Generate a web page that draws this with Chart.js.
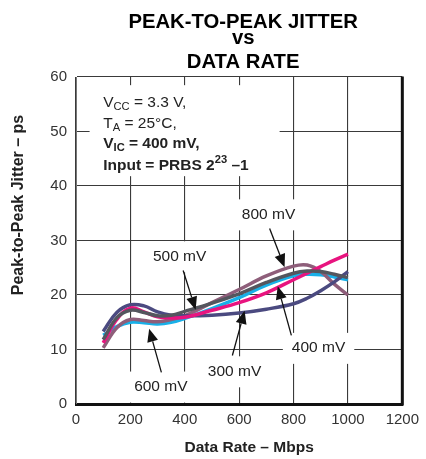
<!DOCTYPE html>
<html><head><meta charset="utf-8">
<script src="https://cdn.jsdelivr.net/npm/chart.js@4"></script>
<style>html,body{margin:0;padding:0;background:#fff}#wrap{width:426px;height:459px;position:relative}</style>
</head><body><div id="wrap"><canvas id="c"></canvas></div>
<script>
// ---- data ----
const rates   = [100,150,200,250,300,350,400,500,600,700,800,850,900,950,1000];
const vid300  = [13.3,16.8,18.2,18.0,16.9,16.3,16.2,16.3,16.7,17.4,18.4,19.4,20.8,22.4,24.3];
const vid400  = [11.2,15.5,17.6,16.9,16.0,15.8,15.9,17.2,18.6,20.4,22.8,24.0,25.2,26.4,27.5];
const vid500  = [11.8,15.8,17.2,16.8,16.2,16.3,17.0,18.5,20.2,22.3,24.0,24.4,24.3,23.8,23.2];
const vid600  = [12.6,14.2,15.0,14.9,14.7,15.0,15.7,17.5,19.5,21.8,23.5,23.8,23.7,23.3,22.8];
const vid800  = [10.3,14.0,15.5,15.3,15.1,15.5,16.2,18.6,21.0,23.5,25.3,25.5,24.3,22.0,20.0];
const seriesNames = ['500 mV','400 mV','300 mV','800 mV','600 mV'];
const xTicks = [0,200,400,600,800,1000,1200];
const yTicks = [0,10,20,30,40,50,60];
const titleLines = ['PEAK-TO-PEAK JITTER','vs','DATA RATE'];
const xTitle = 'Data Rate \u2013 Mbps';
const yTitle = 'Peak-to-Peak Jitter \u2013 ps';

// annotation callouts: label position, arrow tail, arrow tip (data units)
const callouts = [
  {text:'800 mV', lx:708, ly:34.8, tx:712, ty:32.2, hx:767, hy:25.1},
  {text:'500 mV', lx:381, ly:27.1, tx:394, ty:24.5, hx:440, hy:17.3},
  {text:'600 mV', lx:312, ly:3.2,  tx:314, ty:5.8,  hx:269, hy:13.8},
  {text:'300 mV', lx:583, ly:6.0,  tx:575, ty:8.9,  hx:620, hy:17.1},
  {text:'400 mV', lx:892, ly:10.3, tx:792, ty:12.6, hx:742, hy:21.6}
];

const FONT = '"Liberation Sans", Arial, Helvetica, sans-serif';
const colors = {'300 mV':'#4b4a80','400 mV':'#e8147f','500 mV':'#54565e','600 mV':'#18b0e8','800 mV':'#8e5e7a'};
const seriesData = {'300 mV':vid300,'400 mV':vid400,'500 mV':vid500,'600 mV':vid600,'800 mV':vid800};

function drawRich(ctx, parts, x, y, size, bold){
  let cx = x;
  parts.forEach(p=>{
    const s = p.sub||p.sup ? size*0.72 : size;
    ctx.font = (bold?'bold ':'') + s + 'px ' + FONT;
    const dy = p.sub ? size*0.22 : (p.sup ? -size*0.4 : 0);
    ctx.fillText(p.t, cx, y+dy);
    cx += ctx.measureText(p.t).width;
  });
}

const annotPlugin = {
  id:'annot',
  beforeDatasetsDraw(chart){
    const {ctx, scales:{x,y}} = chart;
    ctx.save();
    ctx.fillStyle = '#fff';
    ctx.fillRect(x.getPixelForValue(50), y.getPixelForValue(58.5), 190, 91);
    ctx.font = '15.5px ' + FONT;
    callouts.forEach(c=>{
      const w = ctx.measureText(c.text).width;
      const px = x.getPixelForValue(c.lx), py = y.getPixelForValue(c.ly);
      ctx.fillRect(px - w/2 - 9, py - 15, w + 18, 31);
    });
    ctx.restore();
  },
  afterDatasetsDraw(chart){
    const {ctx, scales:{x,y}, chartArea} = chart;
    ctx.save();
    ctx.strokeStyle = '#111'; ctx.lineWidth = 3;
    ctx.beginPath(); ctx.moveTo(chartArea.right, chartArea.top-0.5); ctx.lineTo(chartArea.right, chartArea.bottom+1.5); ctx.stroke();
    ctx.strokeStyle = '#111'; ctx.lineWidth = 1.3;
    callouts.forEach(c=>{
      const px = x.getPixelForValue(c.lx), py = y.getPixelForValue(c.ly);
      ctx.font = '15.5px ' + FONT; ctx.textAlign='center'; ctx.textBaseline='middle';
      ctx.fillStyle = '#222';
      ctx.fillText(c.text, px, py);
      const tx = x.getPixelForValue(c.tx), ty = y.getPixelForValue(c.ty);
      const hx = x.getPixelForValue(c.hx), hy = y.getPixelForValue(c.hy);
      const ang = Math.atan2(hy-ty, hx-tx);
      const L = 13, W = 5.5;
      const bx = hx - L*Math.cos(ang), by = hy - L*Math.sin(ang);
      ctx.beginPath(); ctx.moveTo(tx,ty); ctx.lineTo(bx,by); ctx.stroke();
      ctx.fillStyle = '#111';
      ctx.beginPath();
      ctx.moveTo(hx,hy);
      ctx.lineTo(bx + W*Math.sin(ang), by - W*Math.cos(ang));
      ctx.lineTo(bx - W*Math.sin(ang), by + W*Math.cos(ang));
      ctx.closePath(); ctx.fill();
    });
    ctx.fillStyle = '#222'; ctx.textAlign='left'; ctx.textBaseline='alphabetic';
    const ix = x.getPixelForValue(100);
    const b0 = y.top + 29.5;
    drawRich(ctx,[{t:'V'},{t:'CC',sub:true},{t:' = 3.3 V,'}], ix, b0, 15.5, false);
    drawRich(ctx,[{t:'T'},{t:'A',sub:true},{t:' = 25\u00b0C,'}], ix, b0+21.5, 15.5, false);
    drawRich(ctx,[{t:'V'},{t:'IC',sub:true},{t:' = 400 mV,'}], ix, b0+41, 15.5, true);
    drawRich(ctx,[{t:'Input = PRBS 2'},{t:'23',sup:true},{t:' \u20131'}], ix, b0+63, 15.5, true);
    ctx.restore();
  },
  afterDraw(chart){
    const {ctx, chartArea} = chart;
    ctx.save();
    ctx.fillStyle = '#000'; ctx.textAlign = 'center'; ctx.textBaseline = 'alphabetic';
    const cx = (chartArea.left + chartArea.right)/2 + 4;
    ctx.font = 'bold 20.3px ' + FONT;
    ctx.fillText(titleLines[0], cx, 28.3);
    ctx.fillText(titleLines[1], cx, 43.5);
    ctx.fillText(titleLines[2], cx, 68.2);
    ctx.fillStyle = '#222';
    ctx.font = 'bold 15.5px ' + FONT;
    ctx.fillText(xTitle, cx + 6, 451.5);
    ctx.font = 'bold 16px ' + FONT;
    ctx.translate(23, 205); ctx.rotate(-Math.PI/2);
    ctx.fillText(yTitle, 0, 0);
    ctx.restore();
  }
};

const datasets = seriesNames.map(n=>({
  label:n,
  data: rates.map((r,i)=>({x:r, y:seriesData[n][i]})),
  borderColor: colors[n],
  borderWidth: 3.5,
  pointRadius: 0,
  tension: 0.4,
  fill:false
}));

new Chart(document.getElementById('c'), {
  type:'line',
  data:{datasets},
  options:{
    responsive:true, maintainAspectRatio:false, animation:false,
    layout:{padding:{top:77,right:23,left:0,bottom:0}},
    plugins:{legend:{display:false}, tooltip:{enabled:false}, title:{display:false}},
    scales:{
      x:{type:'linear', min:0, max:1200,
        afterBuildTicks:s=>{s.ticks = xTicks.map(v=>({value:v}));},
        afterFit:s=>{s.height = 55;},
        grid:{color:'#3a3a3a', lineWidth:1.1, drawTicks:false},
        border:{color:'#111', width:3},
        ticks:{padding:7, color:'#333', font:{family:FONT, size:15}, maxRotation:0, autoSkip:false, callback:v=>String(v)}
      },
      y:{type:'linear', min:0, max:60,
        afterBuildTicks:s=>{s.ticks = yTicks.map(v=>({value:v}));},
        afterFit:s=>{s.width = 76;},
        grid:{color:'#3a3a3a', lineWidth:1.1, drawTicks:false},
        border:{color:'#777', width:1},
        ticks:{padding:9, color:'#333', font:{family:FONT, size:15}, callback:v=>String(v)}
      }
    }
  },
  plugins:[annotPlugin]
});
</script></body></html>
